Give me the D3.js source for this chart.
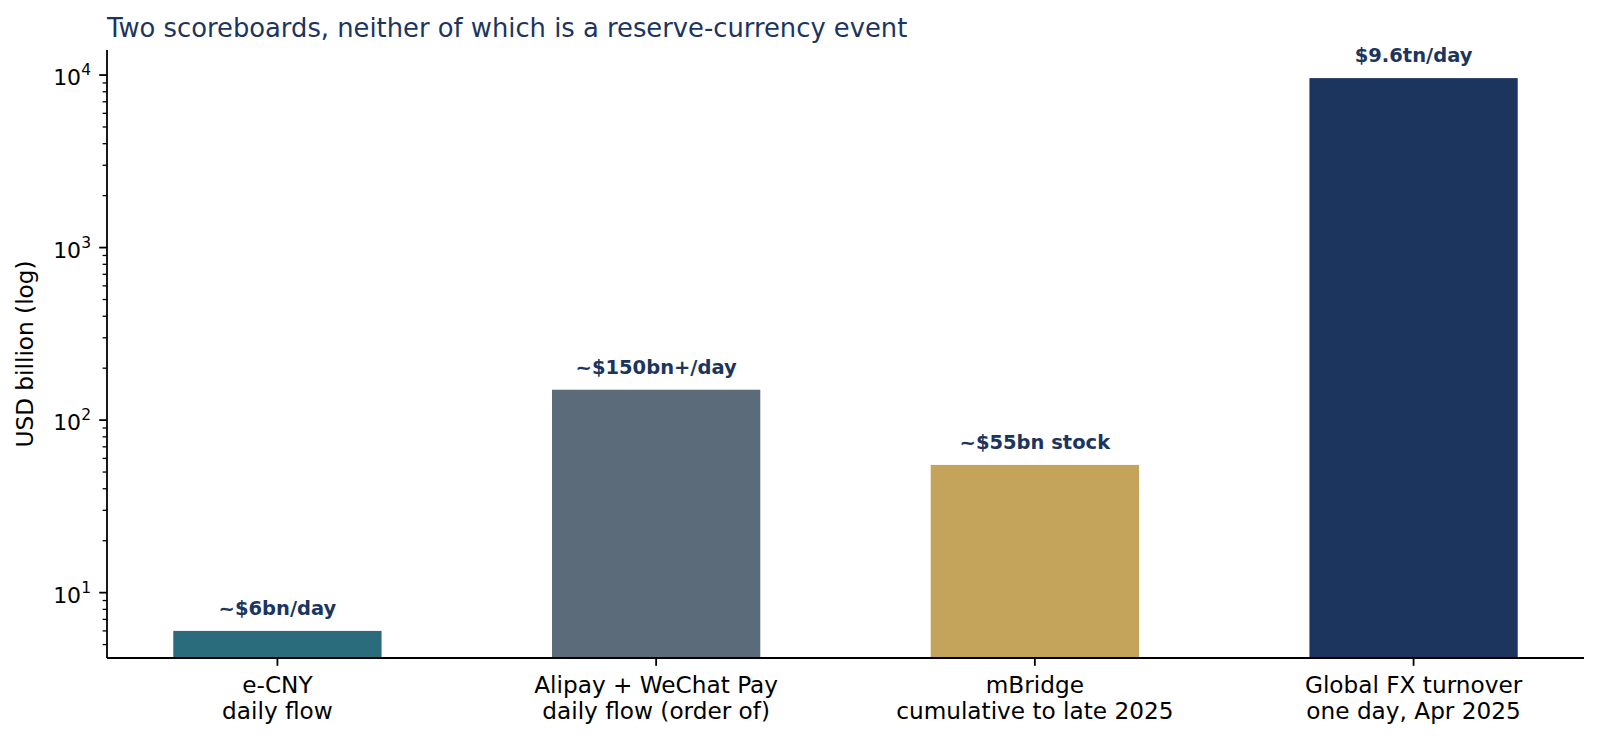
<!DOCTYPE html>
<html>
<head>
<meta charset="utf-8">
<script src="https://cdn.jsdelivr.net/npm/d3@7"></script>
<style>
  body { margin: 0; background: #fff; }
  svg { display: block; font-family: "DejaVu Sans", sans-serif; }
</style>
</head>
<body>
<svg class="chart" width="1600" height="740"></svg>
<script>
// chart data
let categories = ["e-CNY\ndaily flow", "Alipay + WeChat Pay\ndaily flow (order of)", "mBridge\ncumulative to late 2025", "Global FX turnover\none day, Apr 2025"];
let values = [6, 150, 55, 9600];
let valueLabels = ["~$6bn/day", "~$150bn+/day", "~$55bn stock", "$9.6tn/day"];
let barColors = ["#2a6c7c", "#5c6b7a", "#c4a35a", "#1c355e"];
let yTickValues = [10, 100, 1000, 10000];
let yTickExponents = ["1", "2", "3", "4"];

let navy = "#1c355e";

function drawChart(){
	let svg = d3.select(".chart"),
		margin = {top: 50, right: 16, bottom: 82, left: 107},
		width = svg.attr("width") - margin.left - margin.right,
		height = svg.attr("height") - margin.top - margin.bottom,
		g = svg.append("g").attr("transform", "translate(" + margin.left + "," + margin.top + ")");

	//scales
	let x = d3.scaleBand()
		.domain(d3.range(categories.length))
		.range([0, width])
		.paddingInner(0.45)
		.paddingOuter(0.175);
	let y = d3.scaleLog()
		.domain([4.18, 13970])
		.range([height, 0]);

	//bars
	g.selectAll(".bar")
		.data(values)
		.enter()
		.append("rect")
		.attr("class", "bar")
		.attr("x", function(d, i) { return x(i); })
		.attr("y", function(d) { return y(d); })
		.attr("width", x.bandwidth())
		.attr("height", function(d) { return height - y(d); })
		.style("fill", function(d, i) { return barColors[i]; });

	//value labels
	g.selectAll(".value-label")
		.data(values)
		.enter()
		.append("text")
		.attr("class", "value-label")
		.attr("x", function(d, i) { return x(i) + x.bandwidth() / 2; })
		.attr("y", function(d) { return y(d) - 16; })
		.attr("text-anchor", "middle")
		.style("font-size", "19.5px")
		.style("font-weight", "bold")
		.style("fill", navy)
		.text(function(d, i) { return valueLabels[i]; });

	//y axis minor ticks
	let minorTicks = y.ticks().filter(function(t) { return yTickValues.indexOf(t) < 0; });
	let yAxisG = g.append("g").attr("class", "y-axis");
	yAxisG.selectAll(".minor")
		.data(minorTicks)
		.enter()
		.append("line")
		.attr("class", "minor")
		.attr("x1", -4.4)
		.attr("x2", 0)
		.attr("y1", function(d) { return y(d); })
		.attr("y2", function(d) { return y(d); })
		.style("stroke", "#000")
		.style("stroke-width", 1.3);

	//y axis major ticks
	yAxisG.selectAll(".major")
		.data(yTickValues)
		.enter()
		.append("line")
		.attr("class", "major")
		.attr("x1", -7.8)
		.attr("x2", 0)
		.attr("y1", function(d) { return y(d); })
		.attr("y2", function(d) { return y(d); })
		.style("stroke", "#000")
		.style("stroke-width", 1.8);

	let yLabels = yAxisG.selectAll(".y-tick-label")
		.data(yTickValues)
		.enter()
		.append("text")
		.attr("class", "y-tick-label")
		.attr("x", -16)
		.attr("y", function(d) { return y(d) + 10; })
		.attr("text-anchor", "end")
		.style("font-size", "22px")
		.style("fill", "#000");
	yLabels.append("tspan").text("10");
	yLabels.append("tspan")
		.attr("dy", -10)
		.style("font-size", "15.5px")
		.text(function(d, i) { return yTickExponents[i]; });

	//x axis ticks
	let xAxisG = g.append("g")
		.attr("class", "x-axis")
		.attr("transform", "translate(0," + height + ")");
	xAxisG.selectAll("line")
		.data(categories)
		.enter()
		.append("line")
		.attr("x1", function(d, i) { return x(i) + x.bandwidth() / 2; })
		.attr("x2", function(d, i) { return x(i) + x.bandwidth() / 2; })
		.attr("y1", 0)
		.attr("y2", 7.8)
		.style("stroke", "#000")
		.style("stroke-width", 1.8);

	let xLabels = xAxisG.selectAll(".x-tick-label")
		.data(categories)
		.enter()
		.append("text")
		.attr("class", "x-tick-label")
		.attr("text-anchor", "middle")
		.style("font-size", "23.2px")
		.style("fill", "#000");
	xLabels.each(function(d, i) {
		let lines = d.split("\n");
		let t = d3.select(this);
		lines.forEach(function(line, j) {
			t.append("tspan")
				.attr("x", x(i) + x.bandwidth() / 2)
				.attr("y", 35 + j * 26)
				.text(line);
		});
	});

	//spines
	g.append("line")
		.attr("x1", 0).attr("x2", 0)
		.attr("y1", 0).attr("y2", height)
		.style("stroke", "#000")
		.style("stroke-width", 1.8);
	g.append("line")
		.attr("x1", 0).attr("x2", width)
		.attr("y1", height).attr("y2", height)
		.style("stroke", "#000")
		.style("stroke-width", 1.8);

	//y label
	svg.append("text")
		.attr("transform", "translate(33," + (margin.top + height / 2) + ") rotate(-90)")
		.attr("text-anchor", "middle")
		.style("font-size", "23.2px")
		.style("fill", "#000")
		.text("USD billion (log)");

	//title
	svg.append("text")
		.attr("x", margin.left)
		.attr("y", 37)
		.style("font-size", "25.8px")
		.style("fill", navy)
		.text("Two scoreboards, neither of which is a reserve-currency event");
}

drawChart();
</script>
</body>
</html>
